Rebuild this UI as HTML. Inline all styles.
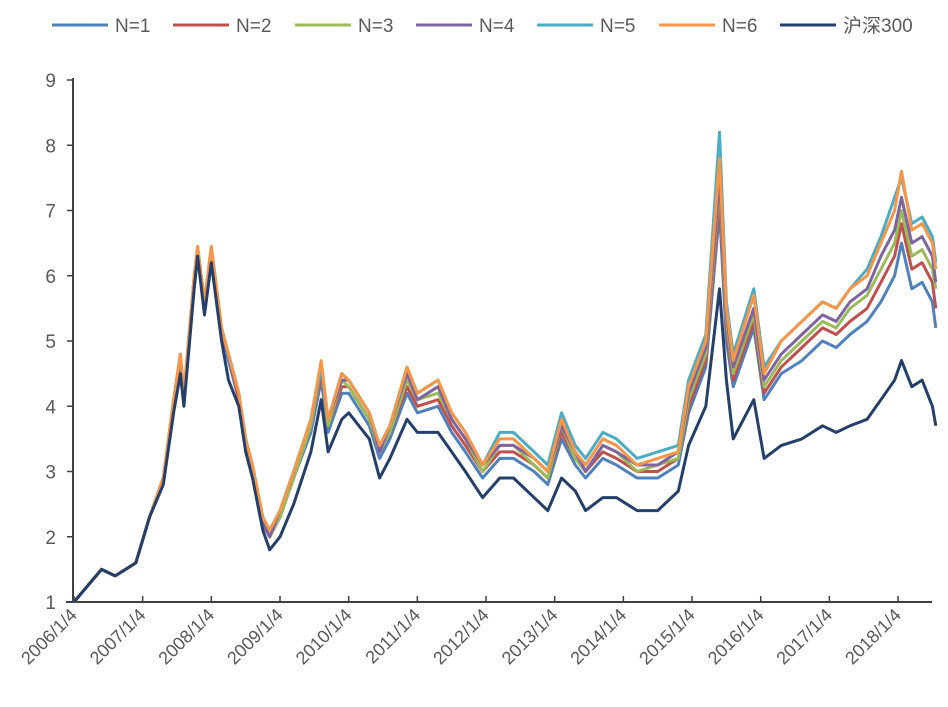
<!DOCTYPE html>
<html><head><meta charset="utf-8"><style>
body{margin:0;background:#fff}
svg text{font-family:"Liberation Sans","Noto Sans CJK SC",sans-serif;fill:#595959}
</style></head><body>
<svg id="chart" width="948" height="702" xmlns="http://www.w3.org/2000/svg"></svg>
<script>
const dates=[2006.0,2006.4,2006.6,2006.9,2007.1,2007.3,2007.45,2007.55,2007.6,2007.75,2007.8,2007.9,2008.0,2008.15,2008.25,2008.4,2008.5,2008.6,2008.75,2008.85,2009.0,2009.2,2009.45,2009.6,2009.7,2009.9,2010.0,2010.3,2010.45,2010.6,2010.85,2011.0,2011.3,2011.5,2011.7,2011.95,2012.2,2012.4,2012.7,2012.9,2013.1,2013.3,2013.45,2013.7,2013.9,2014.2,2014.5,2014.8,2014.95,2015.2,2015.4,2015.5,2015.6,2015.9,2016.05,2016.3,2016.6,2016.9,2017.1,2017.3,2017.55,2017.75,2017.95,2018.05,2018.2,2018.35,2018.5,2018.55];
const hs300=[1.0,1.5,1.4,1.6,2.3,2.8,3.9,4.5,4.0,5.8,6.3,5.4,6.2,5.0,4.4,4.0,3.3,2.9,2.1,1.8,2.0,2.5,3.3,4.1,3.3,3.8,3.9,3.5,2.9,3.2,3.8,3.6,3.6,3.3,3.0,2.6,2.9,2.9,2.6,2.4,2.9,2.7,2.4,2.6,2.6,2.4,2.4,2.7,3.4,4.0,5.8,4.4,3.5,4.1,3.2,3.4,3.5,3.7,3.6,3.7,3.8,4.1,4.4,4.7,4.3,4.4,4.0,3.7];
const n1=[1.0,1.5,1.4,1.6,2.3,2.9,4.0,4.7,4.1,5.9,6.4,5.5,6.4,5.1,4.7,4.1,3.4,3.0,2.2,2.0,2.3,2.9,3.6,4.4,3.6,4.2,4.2,3.7,3.2,3.5,4.2,3.9,4.0,3.6,3.3,2.9,3.2,3.2,3.0,2.8,3.5,3.1,2.9,3.2,3.1,2.9,2.9,3.1,3.9,4.6,7.0,5.0,4.3,5.2,4.1,4.5,4.7,5.0,4.9,5.1,5.3,5.6,6.0,6.5,5.8,5.9,5.6,5.2];
const n2=[1.0,1.5,1.4,1.6,2.3,2.9,4.0,4.7,4.1,5.9,6.4,5.5,6.4,5.1,4.8,4.1,3.4,3.0,2.2,2.0,2.3,2.9,3.7,4.5,3.7,4.3,4.3,3.8,3.3,3.6,4.3,4.0,4.1,3.7,3.4,3.0,3.3,3.3,3.1,2.9,3.6,3.2,3.0,3.3,3.2,3.0,3.0,3.2,4.0,4.7,7.2,5.2,4.4,5.3,4.2,4.6,4.9,5.2,5.1,5.3,5.5,5.9,6.3,6.8,6.1,6.2,5.9,5.5];
const n3=[1.0,1.5,1.4,1.6,2.3,2.9,4.0,4.7,4.1,5.9,6.4,5.5,6.4,5.1,4.8,4.2,3.4,3.0,2.2,2.0,2.3,2.9,3.7,4.6,3.7,4.4,4.3,3.8,3.3,3.6,4.4,4.1,4.2,3.8,3.5,3.0,3.4,3.4,3.1,2.9,3.7,3.2,3.0,3.4,3.3,3.0,3.1,3.2,4.1,4.8,7.4,5.3,4.5,5.4,4.3,4.7,5.0,5.3,5.2,5.5,5.7,6.1,6.5,7.0,6.3,6.4,6.1,5.8];
const n4=[1.0,1.5,1.4,1.6,2.3,2.9,4.0,4.7,4.1,5.9,6.4,5.5,6.4,5.1,4.8,4.2,3.5,3.0,2.2,2.0,2.4,3.0,3.8,4.6,3.8,4.4,4.4,3.9,3.3,3.7,4.5,4.1,4.3,3.8,3.5,3.1,3.4,3.4,3.2,3.0,3.7,3.3,3.0,3.4,3.3,3.1,3.1,3.3,4.2,4.9,7.5,5.4,4.6,5.5,4.4,4.8,5.1,5.4,5.3,5.6,5.8,6.3,6.7,7.2,6.5,6.6,6.3,5.9];
const n5=[1.0,1.5,1.4,1.6,2.3,2.9,4.1,4.8,4.2,6.0,6.45,5.6,6.45,5.2,4.8,4.2,3.5,3.1,2.3,2.1,2.4,3.0,3.8,4.6,3.8,4.5,4.4,3.9,3.4,3.7,4.6,4.2,4.4,3.9,3.6,3.1,3.6,3.6,3.3,3.1,3.9,3.4,3.2,3.6,3.5,3.2,3.3,3.4,4.4,5.1,8.2,5.6,4.8,5.8,4.6,5.0,5.3,5.6,5.5,5.8,6.1,6.6,7.2,7.5,6.8,6.9,6.6,6.2];
const n6=[1.0,1.5,1.4,1.6,2.3,2.9,4.1,4.8,4.2,6.0,6.45,5.6,6.45,5.2,4.8,4.2,3.5,3.1,2.3,2.1,2.4,3.0,3.8,4.7,3.8,4.5,4.4,3.9,3.4,3.7,4.6,4.2,4.4,3.9,3.6,3.1,3.5,3.5,3.2,3.0,3.8,3.3,3.1,3.5,3.4,3.1,3.2,3.3,4.3,5.0,7.8,5.5,4.7,5.7,4.5,5.0,5.3,5.6,5.5,5.8,6.0,6.5,7.0,7.6,6.7,6.8,6.5,6.1];
const yTicks=[1,2,3,4,5,6,7,8,9];
const xTickLabels=["2006/1/4","2007/1/4","2008/1/4","2009/1/4","2010/1/4","2011/1/4","2012/1/4","2013/1/4","2014/1/4","2015/1/4","2016/1/4","2017/1/4","2018/1/4"];
const xTickYears=[2006,2007,2008,2009,2010,2011,2012,2013,2014,2015,2016,2017,2018];
const seriesNames=["N=1","N=2","N=3","N=4","N=5","N=6","沪深300"];
const seriesData=[n1,n2,n3,n4,n5,n6,hs300];
const colors=["#4f81bd","#c0504d","#9bbb59","#8064a2","#4bacc6","#f79646","#243f6b"];

const NS="http://www.w3.org/2000/svg";
const svg=document.getElementById('chart');
const X=t=>74+(t-2006)*68.67;
const Y=v=>602-(v-1)*65.25;
function mk(tag,attrs,parent){const e=document.createElementNS(NS,tag);for(const k in attrs)e.setAttribute(k,attrs[k]);(parent||svg).appendChild(e);return e;}

let ax=mk('line',{x1:73,y1:78,x2:73,y2:602,stroke:'#404040','stroke-width':2});


let bx=mk('line',{x1:66,y1:602,x2:932,y2:602,stroke:'#404040','stroke-width':2});


yTicks.forEach(v=>{
  let t=mk('line',{x1:67,y1:Y(v),x2:73,y2:Y(v),stroke:'#404040','stroke-width':1.5});
  
  
  let l=mk('text',{x:56,y:Y(v)+7,'text-anchor':'end','font-size':19});
  l.textContent=v;
  
  
});
xTickYears.forEach((yr,i)=>{
  const x=X(yr);
  let t=mk('line',{x1:x,y1:596,x2:x,y2:602,stroke:'#404040','stroke-width':1.5});
  
  
  let l=mk('text',{x:x+4,y:616,'text-anchor':'end','font-size':18,transform:`rotate(-45 ${x+4} 616)`});
  l.textContent=xTickLabels[i];
  
  
});
seriesData.forEach((d,s)=>{
  const pts=dates.map((t,i)=>X(t).toFixed(1)+','+Y(d[i]).toFixed(1)).join(' ');
  let p=mk('polyline',{points:pts,fill:'none',stroke:colors[s],'stroke-width':3,'stroke-linejoin':'round'});
  
  
});
const legX=[52,173,295,416,537,659,780];
seriesNames.forEach((n,s)=>{
  let g=mk('g',{});
  
  
  mk('line',{x1:legX[s],y1:25,x2:legX[s]+56,y2:25,stroke:colors[s],'stroke-width':3},g);
  let t=mk('text',{x:legX[s]+63,y:32,'font-size':19},g);
  t.textContent=n;
});
</script>
</body></html>
